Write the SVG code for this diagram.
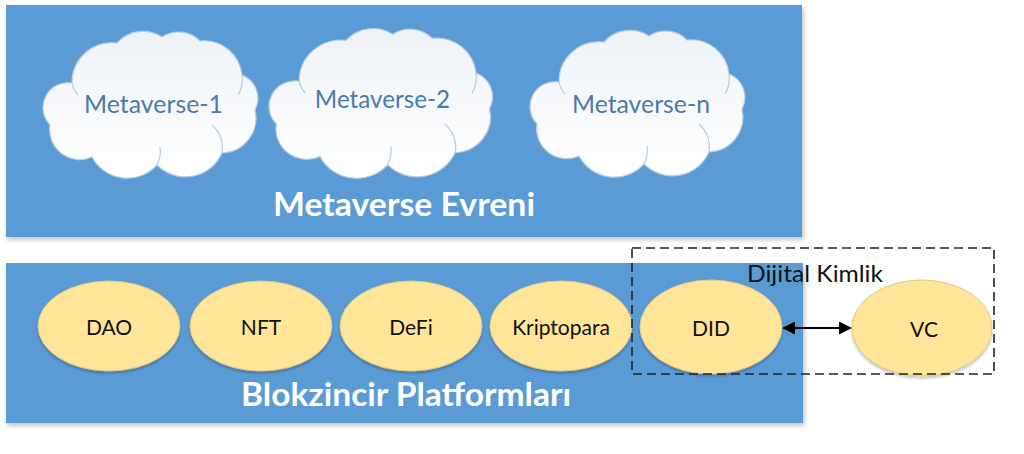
<svg xmlns="http://www.w3.org/2000/svg" width="1024" height="454" viewBox="0 0 1024 454">
<defs>
<style>
.panel{fill:#5b9bd5}
.shadow{fill:#9a9a9a;opacity:0.55}
.cloud{fill:url(#cg);stroke:#b9cbe0;stroke-width:1.2}
.curl{fill:none;stroke:#b9cbe0;stroke-width:1.2}
.ctext{font-family:Lato,"Open Sans",sans-serif;font-size:25px;fill:#4a7aae}
.title{font-family:Lato,"Open Sans",sans-serif;font-weight:bold;font-size:32px;fill:#ffffff}
.node{fill:#fee599;stroke:#e2c983;stroke-width:1}
.ntext{font-family:Lato,"Open Sans",sans-serif;font-size:21px;fill:#111111;text-anchor:middle}
.conn{stroke:#000000;stroke-width:2;fill:none}
.dash{fill:none;stroke:#222222;stroke-width:1.6;stroke-dasharray:9 5}
</style>
<linearGradient id="cg" x1="0" y1="0" x2="0" y2="1">
<stop offset="0" stop-color="#eef2f7"/>
<stop offset="1" stop-color="#ffffff"/>
</linearGradient>
<filter id="blur" x="-5%" y="-5%" width="110%" height="120%"><feGaussianBlur stdDeviation="2"/></filter>
<filter id="eshadow" x="-10%" y="-10%" width="120%" height="130%"><feDropShadow dx="0" dy="2" stdDeviation="1.5" flood-color="#000" flood-opacity="0.25"/></filter>
<path id="cloudShape" d="M30,58 A40,40 0 0 1 75,18 A35,35 0 0 1 120,12 A30,30 0 0 1 158,16 A38,38 0 0 1 200,50 A25,25 0 0 1 213,85 A35,35 0 0 1 180,128 A40,40 0 0 1 115,140 A40,40 0 0 1 50,132 A30,30 0 0 1 8,100 A25,25 0 0 1 30,58 Z"/>
<marker id="ah" markerWidth="13" markerHeight="13" refX="11" refY="6.5" orient="auto-start-reverse" markerUnits="userSpaceOnUse">
<path d="M0,0 L13,6.5 L0,13 Z" fill="#000"/>
</marker>
</defs>

<g id="metaverse-evreni">
<rect class="shadow" x="7" y="8" width="797" height="232" filter="url(#blur)"/>
<rect class="panel" x="6" y="5" width="796" height="232"/>
<text class="title" x="273" y="216" textLength="262" lengthAdjust="spacingAndGlyphs">Metaverse Evreni</text>
</g>

<g id="metaverse-1" transform="translate(42,25)">
<use href="#cloudShape" class="cloud"/>
<path class="curl" d="M200,50 A30,30 0 0 1 196,70"/>
<path class="curl" d="M180,128 A30,30 0 0 0 170,100"/>
<path class="curl" d="M115,140 A30,30 0 0 0 118,122"/>
<path class="curl" d="M30,58 A25,25 0 0 0 36,70"/>
<text class="ctext" x="42" y="88" textLength="139" lengthAdjust="spacingAndGlyphs">Metaverse-1</text>
</g>

<g id="metaverse-2" transform="translate(268,22) scale(1.04,1.02)">
<use href="#cloudShape" class="cloud"/>
<path class="curl" d="M200,50 A30,30 0 0 1 196,70"/>
<path class="curl" d="M180,128 A30,30 0 0 0 170,100"/>
<path class="curl" d="M115,140 A30,30 0 0 0 118,122"/>
<path class="curl" d="M30,58 A25,25 0 0 0 36,70"/>
<text class="ctext" x="45" y="84" textLength="130" lengthAdjust="spacingAndGlyphs">Metaverse-2</text>
</g>

<g id="metaverse-n" transform="translate(529,24)">
<use href="#cloudShape" class="cloud"/>
<path class="curl" d="M200,50 A30,30 0 0 1 196,70"/>
<path class="curl" d="M180,128 A30,30 0 0 0 170,100"/>
<path class="curl" d="M115,140 A30,30 0 0 0 118,122"/>
<path class="curl" d="M30,58 A25,25 0 0 0 36,70"/>
<text class="ctext" x="43" y="89" textLength="138" lengthAdjust="spacingAndGlyphs">Metaverse-n</text>
</g>

<g id="blokzincir-platformlari">
<rect class="shadow" x="7" y="266" width="798" height="160" filter="url(#blur)"/>
<rect class="panel" x="6" y="263" width="797" height="160"/>
<text class="title" x="241" y="406" textLength="330" lengthAdjust="spacingAndGlyphs">Blokzincir Platformları</text>
</g>

<g id="dao">
<ellipse class="node" cx="109" cy="326" rx="71" ry="45" filter="url(#eshadow)"/>
<text class="ntext" x="109" y="335">DAO</text>
</g>
<g id="nft">
<ellipse class="node" cx="261" cy="326" rx="71" ry="45" filter="url(#eshadow)"/>
<text class="ntext" x="261" y="335">NFT</text>
</g>
<g id="defi">
<ellipse class="node" cx="411" cy="326" rx="71" ry="45" filter="url(#eshadow)"/>
<text class="ntext" x="411" y="335">DeFi</text>
</g>
<g id="kriptopara">
<ellipse class="node" cx="561" cy="326" rx="71" ry="45" filter="url(#eshadow)"/>
<text class="ntext" x="561" y="335">Kriptopara</text>
</g>
<g id="did">
<ellipse class="node" cx="711" cy="327" rx="71" ry="47" filter="url(#eshadow)"/>
<text class="ntext" x="711" y="336">DID</text>
</g>
<g id="vc">
<ellipse class="node" cx="922" cy="328" rx="70" ry="48" filter="url(#eshadow)"/>
<text class="ntext" x="924" y="337">VC</text>
</g>

<g id="dijital-kimlik">
<rect class="dash" x="632" y="248" width="362" height="126"/>
<text x="747" y="282" style="font-family:Lato,'Open Sans',sans-serif;font-size:24px;fill:#111" textLength="136" lengthAdjust="spacingAndGlyphs">Dijital Kimlik</text>
</g>

<g id="connectors">
<line class="conn" x1="784" y1="328" x2="850" y2="328" marker-start="url(#ah)" marker-end="url(#ah)"/>
</g>
</svg>
